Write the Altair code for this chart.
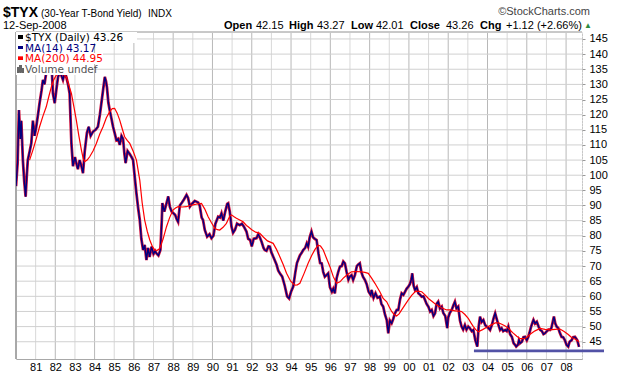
import altair as alt
import pandas as pd

# ---------------- data ----------------
price_t = [1980.00,1980.08,1980.15,1980.22,1980.27,1980.35,1980.42,1980.49,1980.55,1980.60,1980.70,1980.78,1980.86,1980.95,
           1981.03,1981.12,1981.20,1981.30,1981.37,1981.45,1981.54,1981.62,1981.72,1981.80,1981.88,1981.97,
           1982.05,1982.14,1982.25,1982.39,1982.48,1982.56,1982.65,1982.73,1982.82,1982.90,
           1983.00,1983.07,1983.15,1983.24,1983.33,1983.41,1983.50,1983.61,1983.70,1983.80,1983.92,
           1984.05,1984.17,1984.27,1984.35,1984.45,1984.52,1984.58,1984.63,1984.70,1984.77,1984.85,1984.94,
           1985.02,1985.11,1985.20,1985.28,1985.37,1985.45,1985.52,1985.58,1985.68,1985.79,1985.88,1985.96,
           1986.05,1986.13,1986.22,1986.30,1986.38,1986.47,1986.55,1986.64,1986.72,1986.80,1986.90,
           1987.00,1987.08,1987.15,1987.25,1987.35,1987.42,1987.45,1987.55,1987.66,1987.75,1987.83,1987.92,
           1988.00,1988.10,1988.18,1988.25,1988.34,1988.45,1988.55,1988.68,1988.76,1988.85,1988.95,
           1989.10,1989.27,1989.35,1989.45,1989.52,1989.61,1989.73,1989.85,1989.95,
           1990.05,1990.15,1990.29,1990.38,1990.46,1990.55,1990.65,1990.75,1990.80,1990.88,1990.97,
           1991.05,1991.15,1991.25,1991.39,1991.50,1991.60,1991.73,1991.82,1991.92,
           1992.00,1992.10,1992.24,1992.33,1992.41,1992.50,1992.60,1992.66,1992.75,1992.85,1992.92,
           1993.00,1993.10,1993.26,1993.35,1993.43,1993.55,1993.68,1993.80,1993.90,
           1994.00,1994.11,1994.22,1994.30,1994.36,1994.45,1994.55,1994.62,1994.72,1994.80,1994.87,1994.95,
           1995.04,1995.12,1995.20,1995.30,1995.40,1995.48,1995.56,1995.64,1995.72,1995.80,1995.89,1995.98,
           1996.08,1996.15,1996.23,1996.32,1996.40,1996.49,1996.58,1996.66,1996.74,1996.83,1996.92,1996.99,
           1997.08,1997.16,1997.25,1997.35,1997.42,1997.50,1997.58,1997.66,1997.76,1997.85,1997.95,
           1998.05,1998.10,1998.20,1998.30,1998.40,1998.52,1998.60,1998.69,1998.78,1998.87,1998.95,
           1999.03,1999.12,1999.20,1999.29,1999.38,1999.46,1999.55,1999.63,1999.72,1999.80,1999.88,1999.97,
           2000.05,2000.12,2000.17,2000.24,2000.31,2000.40,2000.48,2000.57,2000.65,2000.74,2000.82,2000.90,2000.99,
           2001.08,2001.16,2001.25,2001.33,2001.41,2001.49,2001.58,2001.67,2001.75,2001.85,2001.95,
           2002.00,2002.08,2002.18,2002.26,2002.34,2002.42,2002.51,2002.60,2002.68,2002.76,2002.85,2002.93,
           2003.02,2003.10,2003.20,2003.28,2003.38,2003.48,2003.55,2003.62,2003.70,2003.79,2003.88,2003.96,
           2004.05,2004.13,2004.22,2004.32,2004.39,2004.47,2004.56,2004.64,2004.72,2004.80,2004.90,2004.98,
           2005.06,2005.15,2005.24,2005.33,2005.40,2005.46,2005.55,2005.60,2005.66,2005.75,2005.83,2005.91,
           2006.00,2006.07,2006.13,2006.22,2006.30,2006.34,2006.42,2006.51,2006.60,2006.68,2006.77,2006.85,2006.93,
           2007.02,2007.10,2007.18,2007.25,2007.32,2007.38,2007.45,2007.52,2007.60,2007.68,2007.77,2007.85,2007.94,
           2008.02,2008.11,2008.18,2008.28,2008.36,2008.45,2008.52,2008.57,2008.66]
price_v = [96.4,104,121.5,112,118,105,98,92.9,100,105,108,110.6,118,113,
           116,120,123.8,128,131.5,130,134,140,145,138,127,123.8,
           128,132.5,134,131.5,134,132.5,130,127,110.6,103,
           106,104,102,105,103,100.7,108,114,116,113,114.4,
           115,116,120,124,129,132.5,131,129,124,121.5,119,116,
           114,111.6,112,110,113,112,107,104,108,107,106,105,
           99,94,89,85.2,79,75.3,77,72,76,73,76.4,
           74,75,74.2,73.5,75.3,85,90.8,88,90.7,93,89.6,88,
           87.5,86.9,85.5,84.6,90,91,92,93.5,92.5,89.6,90.5,
           91.5,91,90,86,85.2,81.9,79.7,80.5,79.2,
           80,84,86.3,86,87.4,85,88,90.5,90.7,88,83,
           81,82,84,83.5,84,83,81.4,79,78.6,
           76.5,79,79.2,80.5,79.5,78,76,75.3,75,76.5,76.4,
           74.5,73,70.5,68.5,67.6,66.5,63.5,60,59.3,
           61.5,63.2,68,71,72,73.5,74.5,75.3,76,77.5,76.4,79.5,
           81.4,79.5,79,78.6,74,71,70.9,68,66.5,67,67.6,63,
           61.5,62.5,61,66,68,69.8,70,71.5,70.9,68,65.5,66.5,
           67,65.4,67,70,70.5,70.9,68,66.5,65.4,64,61.5,
           60.5,62.1,59.5,61,59.5,59.9,57.5,56.6,54,52.2,47.8,
           52,51.1,52.5,54.4,55.5,55.5,59,61,60.5,61.5,62.5,63.2,
           64,65.5,67.6,63.5,62.1,63,61,60.5,59.9,60,58.8,57.5,56.6,
           55,55.5,53.5,54.4,57.5,58.2,56,56.6,54.5,53.5,49.5,
           53,54.5,55.5,57,58.2,56,56.6,52,50,49,50.5,49,
           50,49.5,48.5,48.9,45.5,43.4,50,53.3,51.5,52.2,50.5,50,
           49.5,48.9,50.5,53,54.4,52.5,50.5,48.9,49.5,48.5,48.9,48.5,
           50,47.5,46.6,44.5,44,43.4,44,45.5,44.5,45,46.5,46.6,
           45.5,46.5,47.8,50,51.5,52.2,51,51.6,50,48.9,48.5,47.5,47.8,
           48.5,49,48.9,49.5,51.5,53.3,51,50,49.5,48,46.6,46.5,45.5,
           44,43.4,45,45.5,46.5,46.6,46,45.5,43.3]

ma_t = [1980.69,1980.86,1981.03,1981.20,1981.37,1981.54,1981.67,1981.80,1981.92,1982.05,1982.22,1982.40,1982.56,
        1982.70,1982.82,1982.95,1983.07,1983.20,1983.33,1983.42,1983.50,1983.62,1983.75,1983.92,1984.09,1984.26,
        1984.43,1984.60,1984.77,1984.90,1985.02,1985.15,1985.28,1985.40,1985.53,1985.66,1985.79,1985.96,1986.13,
        1986.30,1986.42,1986.55,1986.68,1986.81,1986.94,1987.06,1987.19,1987.32,1987.49,1987.66,1987.82,1987.99,
        1988.12,1988.25,1988.46,1988.68,1988.85,1989.01,1989.22,1989.44,1989.61,1989.78,1989.95,1990.12,1990.25,
        1990.37,1990.54,1990.71,1990.88,1990.97,1991.10,1991.22,1991.39,1991.56,1991.73,1991.82,1992.00,1992.20,
        1992.41,1992.60,1992.80,1993.09,1993.26,1993.43,1993.60,1993.77,1993.98,1994.19,1994.32,1994.45,1994.66,
        1994.87,1995.05,1995.22,1995.38,1995.50,1995.64,1995.81,1995.98,1996.15,1996.32,1996.49,1996.66,1996.87,
        1997.08,1997.33,1997.59,1997.76,1997.93,1998.10,1998.27,1998.52,1998.69,1998.87,1999.00,1999.12,1999.25,
        1999.37,1999.50,1999.63,1999.80,1999.97,2000.14,2000.31,2000.48,2000.65,2000.82,2000.99,2001.20,2001.41,
        2001.66,2001.92,2002.13,2002.34,2002.51,2002.68,2002.85,2003.02,2003.15,2003.28,2003.40,2003.53,2003.75,
        2003.96,2004.18,2004.39,2004.56,2004.73,2004.90,2005.06,2005.28,2005.49,2005.66,2005.83,2006.00,2006.17,
        2006.42,2006.68,2006.93,2007.18,2007.44,2007.69,2007.90,2008.11,2008.28,2008.45,2008.66]
ma_v = [105,108.3,112,116,119.5,122.6,126,129.2,131.5,133,133.7,133.5,132.5,
        129.5,127,122.5,118.2,113,108.3,105.5,104.5,105,106.1,108,110.5,113.5,
        116,119,121,122,122.1,120.5,118.2,115.5,112.7,111.5,110.5,108,105,
        98.4,91,85.2,81.5,78.6,76.5,75.3,75.2,75.8,79,83,86,88.5,
        89.2,89.6,89.5,89.6,90,90.2,90.5,90.7,88.8,86.3,84.3,82.5,82,
        81.9,82.8,84.1,86.5,86.9,86.3,85.8,85.2,84.6,83.4,83,82,81.2,
        80.8,79.5,78.3,77.5,75.5,73.1,70.5,67.6,65,63.7,63.8,64.3,67.5,
        70.9,73.5,75.5,76.9,76.6,75.3,72.5,69.8,66.5,64.3,64.8,66,67.2,
        68.1,68.2,68.1,67.9,67.6,66,64.3,61.5,59.3,58.2,56.5,55,54,
        53.5,54.2,55.5,57.2,58.8,60.3,61.5,61.7,61.5,60.5,59.3,58.2,57.1,
        56.2,55.5,55.5,55.2,55.1,55,54,52.7,51.3,50,49,48.3,49,
        49.8,50.5,51.2,51.2,50.8,50.2,49.5,48,46.8,46,46,46.4,47.5,
        48.6,49.4,49.1,48.9,49.1,49.2,48.4,47.4,46.4,45.9,45]

year_ticks = list(range(1981, 2009))
y_ticks = list(range(45, 150, 5))
support_t = [2003.31, 2009.93]
support_v = [42.0, 42.0]

header_labels = ["Open", "High", "Low", "Close", "Chg"]
header_values = ["42.15", "43.27", "42.01", "43.26", "+1.12 (+2.66%)"]
legend_text = ["$TYX (Daily) 43.26", "MA(14) 43.17", "MA(200) 44.95", "Volume undef"]
legend_color = ["#000000", "#000080", "#ff0000", "#555555"]

# ---------------- chart ----------------
W, H = 566, 327
FONT = "Liberation Sans"
xs = alt.Scale(domain=[1980.0, 2008.81], nice=False, zero=False)
ys = alt.Scale(domain=[39.3, 147.3], nice=False, zero=False)
XAX = alt.Axis(values=year_ticks, labelExpr="substring(toString(datum.value), 2)",
               grid=False, ticks=False, domain=True, domainColor="#a8a8a8",
               labelFont=FONT, labelFontSize=11, labelColor="#000",
               labelPadding=2, title=None, labelFlush=False)
YAX = alt.Axis(values=y_ticks, orient="right", grid=False, labelAlign="left",
               labelPadding=4, tickSize=3, tickColor="#999",
               domainColor="#b0b0b0", domainDash=[1, 2],
               labelFont=FONT, labelFontSize=11, labelColor="#000",
               title=None, labelFlush=False)

def X(field="t:Q"):
    return alt.X(field, scale=xs, axis=XAX)

def Y(field="v:Q"):
    return alt.Y(field, scale=ys, axis=YAX)

price = pd.DataFrame({"t": price_t, "v": price_v})
ma = pd.DataFrame({"t": ma_t, "v": ma_v})
yrs = pd.DataFrame({"t": year_ticks, "even": [y % 2 == 0 for y in year_ticks]})
hgrid = pd.DataFrame({"v": y_ticks})
sup = pd.DataFrame({"t": [support_t[0]], "t2": [support_t[1]], "v": [support_v[0]]})

vgrid = alt.Chart(yrs).mark_rule(strokeWidth=1).encode(
    x=X(), y=alt.value(0), y2=alt.value(H),
    color=alt.condition("datum.even", alt.value("#b8b8b8"), alt.value("#d8d8d8")),
)
hg = alt.Chart(hgrid).mark_rule(strokeWidth=1, color="#d0d0d0").encode(
    y=Y(), x=alt.value(0), x2=alt.value(W))

frame_left = alt.Chart(hgrid).mark_rule(color="#a8a8a8").encode(x=alt.value(0), y=alt.value(0), y2=alt.value(H))
frame_top = alt.Chart(hgrid).mark_rule(color="#c8c8c8").encode(x=alt.value(0), x2=alt.value(W), y=alt.value(0))

under = alt.Chart(price).mark_line(color="#d0103a", strokeWidth=2.8, clip=True).encode(x=X(), y=Y())
line = alt.Chart(price).mark_line(color="#000080", strokeWidth=1.4, clip=True).encode(x=X(), y=Y())
maline = alt.Chart(ma).mark_line(color="#ff0000", strokeWidth=1.2, clip=True).encode(x=X(), y=Y())
support = alt.Chart(sup).mark_rule(color="#5252a6", strokeWidth=2.6, clip=False).encode(
    x=X(), x2="t2:Q", y=Y())

# legend boxes (white backgrounds behind each legend row)
ROW = 10.6
box_x2 = [121, 77, 87, 77]
legend_layers = []
for i, s in enumerate(legend_text):
    legend_layers.append(alt.Chart(hgrid).mark_rect(color="white").encode(
        x=alt.value(0), x2=alt.value(box_x2[i]), y=alt.value(ROW * i), y2=alt.value(ROW * (i + 1))))
for i, s in enumerate(legend_text):
    cy = 5 + ROW * i
    if i < 3:
        legend_layers.append(alt.Chart(hgrid).mark_rule(color=legend_color[i], strokeWidth=2.5).encode(
            x=alt.value(2), x2=alt.value(7), y=alt.value(cy), y2=alt.value(cy)))
    legend_layers.append(alt.Chart(pd.DataFrame({"s": [s]})).mark_text(
        align="left", baseline="alphabetic", font="DejaVu Sans", fontSize=10.5, color=legend_color[i]).encode(
        x=alt.value(9), y=alt.value(cy + 4), text="s:N"))
for bx, bh in [(2, 5), (4.5, 7), (7, 4)]:
    legend_layers.append(alt.Chart(hgrid).mark_rule(color="#666", strokeWidth=1.6).encode(
        x=alt.value(bx), y=alt.value(3 * ROW + 8.5 - bh), y2=alt.value(3 * ROW + 8.5)))

def txt(s, x, y, size=11, weight="normal", align="left", color="#000", font=FONT):
    return alt.Chart(pd.DataFrame({"s": [s]})).mark_text(
        align=align, baseline="alphabetic", font=font, fontSize=size, fontWeight=weight, color=color).encode(
        x=alt.value(x), y=alt.value(y), text="s:N")

header = [
    txt("$TYX", -13, -15, size=14, weight="bold"),
    txt("(30-Year T-Bond Yield)", 25, -15, size=10),
    txt("INDX", 132, -15, size=10),
    txt("\u00a9StockCharts.com", 574, -17, size=11, align="right", color="#444"),
    txt("12-Sep-2008", -13, -3, size=11),
]
lab_x = [208, 273, 335, 394, 464]
val_x = [240, 301, 360, 430, 490]
for lx, lab, vx, val in zip(lab_x, header_labels, val_x, header_values):
    header.append(txt(lab, lx, -3, size=11, weight="bold"))
    header.append(txt(val, vx, -3, size=11))
header.append(txt("\u25b2", 568, -4, size=8, color="#2e8b3e"))

chart = alt.layer(
    vgrid, hg, frame_left, frame_top, under, line, maline, support, *legend_layers, *header
).properties(
    width=W, height=H,
    autosize=alt.AutoSizeParams(type="none"),
    padding={"left": 16, "top": 32, "right": 38, "bottom": 17},
).configure_view(stroke=None).configure(background="white")

chart.save("out.html", embed_options={"renderer": "svg", "actions": False})
